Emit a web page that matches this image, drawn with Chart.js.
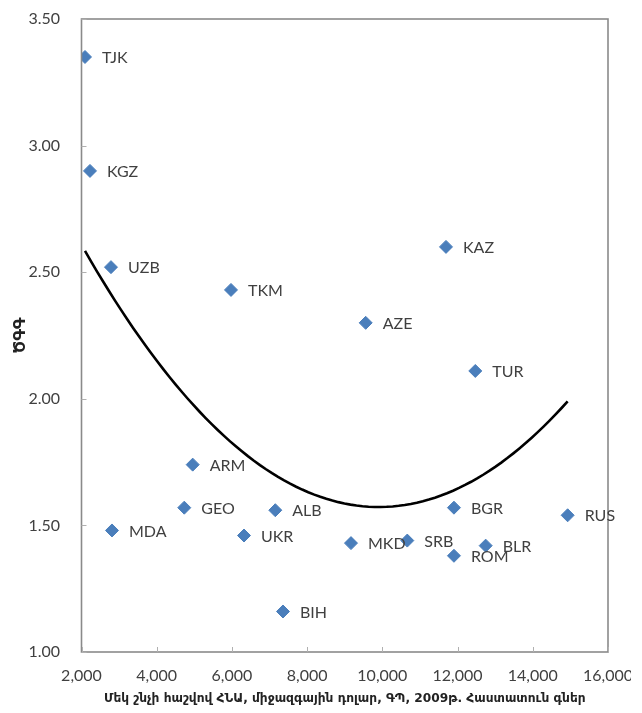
<!DOCTYPE html>
<html>
<head>
<meta charset="utf-8">
<script src="https://cdn.jsdelivr.net/npm/chart.js@4/dist/chart.umd.min.js"></script>
<style>
  html, body { margin: 0; padding: 0; background: #ffffff; overflow: hidden; }
  #wrap { width: 642px; height: 713px; position: relative; }
</style>
</head>
<body>
<div id="wrap"><canvas id="c" width="642" height="713"></canvas></div>
<script>
// Country codes, GDP per capita (international $, PPP, 2009, constant prices) and total fertility rate
const countries = ['TJK', 'KGZ', 'UZB', 'TKM', 'KAZ', 'AZE', 'TUR', 'ARM', 'GEO', 'ALB',
                   'MDA', 'UKR', 'MKD', 'SRB', 'BGR', 'RUS', 'BLR', 'ROM', 'BIH'];
const gdpPerCapita = [2093, 2226, 2784, 5975, 11692, 9557, 12471, 4957, 4733, 7153,
                      2811, 6321, 9166, 10663, 11904, 14927, 12747, 11904, 7358];
const fertilityRate = [3.35, 2.90, 2.52, 2.43, 2.60, 2.30, 2.11, 1.74, 1.57, 1.56,
                       1.48, 1.46, 1.43, 1.44, 1.57, 1.54, 1.42, 1.38, 1.16];
const xTickValues = [2000, 4000, 6000, 8000, 10000, 12000, 14000, 16000];
const yTickValues = [1.00, 1.50, 2.00, 2.50, 3.00, 3.50];

const xTitle = 'Մեկ շնչի հաշվով ՀՆԱ, միջազգային դոլար, ԳՊ, 2009թ. Հաստատուն գներ';
const yTitle = 'ԾԳԳ';

const points = gdpPerCapita.map((x, i) => ({ x: x, y: fertilityRate[i] }));

// Second-order polynomial trendline (least squares), x measured in thousands
function quadFit(xs, ys) {
  let S = [0, 0, 0, 0, 0], T = [0, 0, 0];
  xs.forEach((xv, i) => {
    const x = xv / 1000, y = ys[i];
    let p = 1;
    for (let k = 0; k <= 4; k++) { S[k] += p; if (k <= 2) T[k] += p * y; p *= x; }
  });
  const A = [[S[0], S[1], S[2], T[0]], [S[1], S[2], S[3], T[1]], [S[2], S[3], S[4], T[2]]];
  for (let c = 0; c < 3; c++) {
    for (let r = c + 1; r < 3; r++) {
      const f = A[r][c] / A[c][c];
      for (let k = c; k < 4; k++) A[r][k] -= f * A[c][k];
    }
  }
  const coef = [0, 0, 0];
  for (let r = 2; r >= 0; r--) {
    let s = A[r][3];
    for (let k = r + 1; k < 3; k++) s -= A[r][k] * coef[k];
    coef[r] = s / A[r][r];
  }
  return coef;
}
const trendCoef = quadFit(gdpPerCapita, fertilityRate);
const xMin = Math.min(...gdpPerCapita), xMax = Math.max(...gdpPerCapita);
const trendPoints = [];
for (let i = 0; i <= 80; i++) {
  const xv = xMin + (xMax - xMin) * i / 80;
  const t = xv / 1000;
  trendPoints.push({ x: xv, y: trendCoef[0] + trendCoef[1] * t + trendCoef[2] * t * t });
}

const axisGray = '#8a8a8a';
const textGray = '#404040';

// Plot border, inner tick marks and country labels next to the markers
const decorations = {
  id: 'decorations',
  afterDatasetsDraw(chart) {
    const { ctx, chartArea: a, scales: { x, y } } = chart;
    ctx.save();
    ctx.strokeStyle = axisGray;
    ctx.lineWidth = 1.6;
    ctx.strokeRect(a.left, a.top, a.right - a.left, a.bottom - a.top);
    ctx.lineWidth = 1;
    ctx.strokeStyle = '#b0b0b0';
    xTickValues.forEach(v => {
      const px = Math.round(x.getPixelForValue(v)) + 0.5;
      ctx.beginPath(); ctx.moveTo(px, a.bottom); ctx.lineTo(px, a.bottom - 5); ctx.stroke();
    });
    yTickValues.forEach(v => {
      const py = Math.round(y.getPixelForValue(v)) + 0.5;
      ctx.beginPath(); ctx.moveTo(a.left, py); ctx.lineTo(a.left + 5, py); ctx.stroke();
    });
    const meta = chart.getDatasetMeta(1);
    ctx.fillStyle = textGray;
    ctx.font = '16px Lato, "Open Sans", sans-serif';
    ctx.textAlign = 'left';
    ctx.textBaseline = 'middle';
    meta.data.forEach((el, i) => {
      ctx.fillText(countries[i], el.x + 17, el.y + 1);
    });
    ctx.restore();
  },
  afterDraw(chart) {
    // the picture ends just past the last x-axis label
    const { ctx } = chart;
    ctx.save();
    ctx.fillStyle = '#ffffff';
    ctx.fillRect(631, 656, 11, 34);
    ctx.restore();
  }
};

// fixed axis sizes; the layout padding alone sets the plot area
function fixX(s) {
  s.height = 61;
  s.paddingLeft = 0; s.paddingRight = 0; s.paddingTop = 0; s.paddingBottom = 0;
}
function fixY(s) {
  s.width = 81.5;
  s.paddingLeft = 0; s.paddingRight = 0; s.paddingTop = 0; s.paddingBottom = 0;
}

new Chart(document.getElementById('c'), {
  type: 'scatter',
  data: {
    datasets: [
      {
        label: 'trend',
        data: trendPoints,
        showLine: true,
        borderColor: '#000000',
        borderWidth: 2.6,
        pointRadius: 0,
        pointHoverRadius: 0,
        fill: false,
        tension: 0
      },
      {
        label: 'countries',
        data: points,
        pointStyle: 'rectRot',
        pointRadius: 6.5,
        pointBackgroundColor: '#4a7ebb',
        pointBorderColor: '#4a7ebb',
        pointBorderWidth: 1,
        showLine: false
      }
    ]
  },
  options: {
    responsive: false,
    devicePixelRatio: 1,
    animation: false,
    events: [],
    layout: { autoPadding: false, padding: { top: 19, right: 34, left: 0, bottom: 0 } },
    plugins: { legend: { display: false }, tooltip: { enabled: false } },
    scales: {
      x: {
        type: 'linear',
        min: 2000,
        max: 16000,
        afterBuildTicks: s => { s.ticks = xTickValues.map(v => ({ value: v })); },
        afterFit: fixX,
        grid: { display: false, drawTicks: false },
        border: { display: false },
        ticks: {
          autoSkip: false,
          maxRotation: 0,
          padding: 14,
          color: textGray,
          font: { family: 'Lato, "Open Sans", sans-serif', size: 16 },
          callback: v => v.toLocaleString('en-US')
        },
        title: {
          display: true,
          text: xTitle,
          color: '#222222',
          padding: { top: 0, bottom: 7 },
          font: { family: '"DejaVu Sans", "Noto Sans", sans-serif', size: 12.2, weight: 'bold' }
        }
      },
      y: {
        type: 'linear',
        min: 1,
        max: 3.5,
        afterBuildTicks: s => { s.ticks = yTickValues.map(v => ({ value: v })); },
        afterFit: fixY,
        grid: { display: false, drawTicks: false },
        border: { display: false },
        ticks: {
          padding: 21.5,
          color: textGray,
          font: { family: 'Lato, "Open Sans", sans-serif', size: 16 },
          callback: v => Number(v).toFixed(2)
        },
        title: {
          display: true,
          text: yTitle,
          color: '#222222',
          padding: { top: 11, bottom: 0 },
          font: { family: '"DejaVu Sans", "Noto Sans", sans-serif', size: 16, weight: 'bold' }
        }
      }
    }
  },
  plugins: [decorations]
});
</script>
</body>
</html>
